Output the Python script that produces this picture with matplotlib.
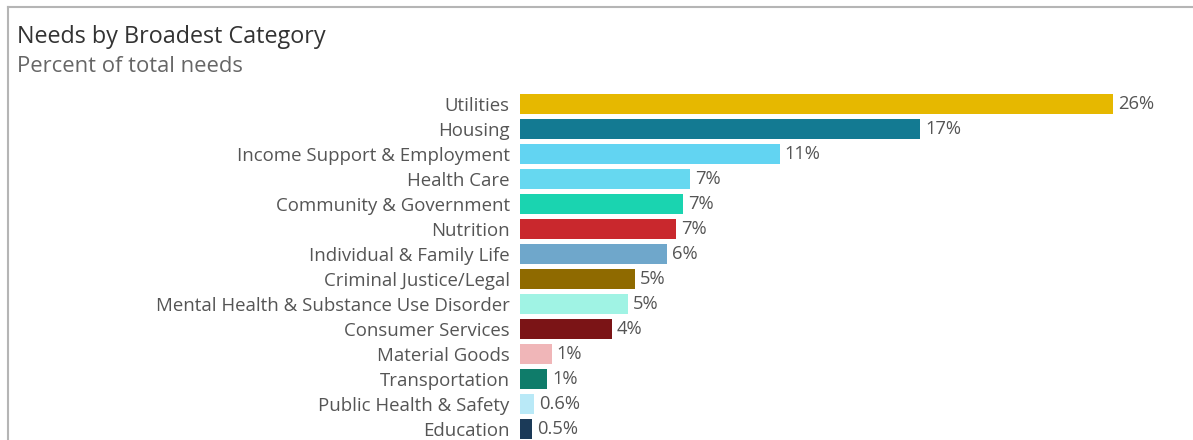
import matplotlib.pyplot as plt
from matplotlib.lines import Line2D

categories = [
    "Utilities", "Housing", "Income Support & Employment", "Health Care",
    "Community & Government", "Nutrition", "Individual & Family Life",
    "Criminal Justice/Legal", "Mental Health & Substance Use Disorder",
    "Consumer Services", "Material Goods", "Transportation",
    "Public Health & Safety", "Education",
]
pct_of_needs = [25.8, 17.4, 11.3, 7.4, 7.1, 6.8, 6.4, 5.0, 4.7, 4.0, 1.4, 1.2, 0.63, 0.54]
bar_colors = [
    "#e6b800", "#137a92", "#62d4f2", "#66d8f0", "#1ad4b0", "#c9282d", "#6fa7cb",
    "#8f6a00", "#a0f3e4", "#7b1416", "#f0b6b8", "#0f7c6a", "#b9e9f7", "#1b3a58",
]


def fmt_pct(v):
    # small shares keep one decimal, the rest are whole percents
    return f"{v:.1f}%" if v < 1 else f"{v:.0f}%"


plt.rcParams['font.family'] = ['Open Sans', 'DejaVu Sans']

W, H = 1193, 440
fig = plt.figure(figsize=(W / 100, H / 100), dpi=100)

# panel frame: top and left edges only
fig.add_artist(Line2D([8 / W, 1], [1 - 7 / H, 1 - 7 / H], color="#b5b5b5", lw=1.5))
fig.add_artist(Line2D([8 / W, 8 / W], [0, 1 - 7 / H], color="#b5b5b5", lw=1.5))

fig.text(17 / W, 1 - 37 / H, "Needs by Broadest Category", fontsize=16.8,
         color="#333333", va="center", ha="left")
fig.text(17 / W, 1 - 66 / H, "Percent of total needs", fontsize=15.8,
         color="#666666", va="center", ha="left")

left, right = 519.5, 1180
top, bottom = 91.5, 440
ax = fig.add_axes([left / W, 1 - bottom / H, (right - left) / W, (bottom - top) / H])

rows = range(len(categories))
ax.barh(rows, pct_of_needs, height=0.78, color=bar_colors)
for y, v in zip(rows, pct_of_needs):
    ax.text(v + 0.22, y, fmt_pct(v), va="center", ha="left", fontsize=13.2, color="#555555")

ax.set_xlim(0, (right - left) / 23.02)
ax.set_ylim(13.44, -0.5)
ax.set_yticks(list(rows))
ax.set_yticklabels(categories, fontsize=13.4, color="#555555")
ax.tick_params(axis="y", length=0, pad=7)
ax.set_xticks([])
for s in ax.spines.values():
    s.set_visible(False)

fig.savefig("out.png", dpi=100)
